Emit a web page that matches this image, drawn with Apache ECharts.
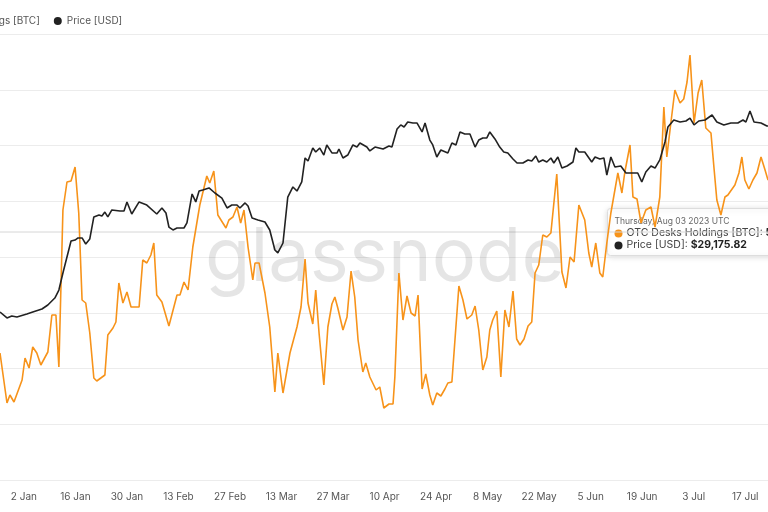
<!DOCTYPE html>
<html><head><meta charset="utf-8">
<script src="https://cdn.jsdelivr.net/npm/echarts@6/dist/echarts.min.js"></script>
<style>html,body{margin:0;padding:0;background:#fff}#c{width:768px;height:512px}</style>
</head><body><div id="c"></div>
<script>
// x = days since 2 Jan 2023
const holdDays=[-6.5,-4.6,-3.8,-2.7,-0.5,0.3,1.4,2.4,3.5,4.6,6.5,7.6,8.7,9.5,10.6,11.7,12.8,13.9,14.9,15.8,16.8,17.9,19.0,19.8,22.0,22.8,24.2,25.0,25.8,26.9,28.0,29.1,31.3,32.3,33.4,34.5,35.3,36.1,37.5,39.4,41.6,42.4,43.5,44.6,45.9,47.8,49.7,50.5,51.6,52.7,54.9,55.7,56.8,57.9,58.9,59.8,60.9,62.2,62.8,63.9,65.5,66.8,68.2,69.0,70.4,72.3,74.2,75.3,76.4,77.2,78.5,79.3,80.2,81.5,82.6,83.7,84.5,85.3,86.7,87.8,88.9,89.9,90.8,92.1,92.9,94.0,95.7,96.7,97.8,99.2,100.3,100.8,101.9,103.0,104.1,105.2,106.3,107.1,108.2,109.2,110.3,111.1,112.2,113.3,114.4,115.2,116.3,118.2,119.3,120.4,121.7,122.6,123.6,124.7,125.8,126.6,127.4,128.5,129.6,130.7,131.8,132.9,133.9,134.8,135.9,137.0,138.0,138.9,139.9,141.0,142.1,143.2,144.8,146.2,147.3,148.4,149.5,150.8,152.4,153.5,154.3,155.4,156.5,157.3,158.4,159.5,161.4,162.5,163.3,164.7,165.5,166.6,167.7,169.0,170.4,171.5,172.8,173.9,174.7,175.8,176.9,178.3,179.3,180.2,181.0,182.1,183.2,184.2,185.3,186.7,187.5,188.3,189.4,190.5,191.3,193.2,194.3,195.1,195.9,197.0,198.1,199.2,200.3,201.4,202.2,205,209,213];
const holdings=[2270,1770,1850,1780,2000,2220,2120,2330,2270,2150,2280,2650,2650,2130,3700,3980,3990,4130,3670,2800,2770,2470,2020,1990,2050,2450,2520,2580,2970,2770,2880,2730,2730,3200,3170,3250,3370,2850,2780,2540,2850,2850,2980,2900,3330,3750,4040,3970,4090,3650,3520,3600,3630,3730,3570,3700,3330,3000,3170,3170,2870,2530,1880,2270,1870,2270,2530,2730,3210,2770,2560,2900,2470,1950,2530,2760,2830,2720,2500,2630,3090,2830,2400,2080,2170,2030,1900,1930,1720,1760,1760,2030,3070,2600,2840,2670,2640,2850,1910,2060,1850,1750,1870,1840,1910,1970,1980,2940,2800,2610,2650,2740,2500,2100,2230,2500,2600,2690,2030,2700,2530,2890,2410,2350,2410,2540,2580,3070,3150,3450,3430,3470,4060,3080,2920,3230,3180,3750,3600,3270,3130,3370,3070,3030,3370,3670,4070,3870,4080,4350,3830,3810,3570,3700,3730,3530,3830,4730,4230,4570,4900,4770,4810,4980,5250,4570,4870,5000,4520,4470,4130,3800,3650,3830,3850,3950,4070,4230,4000,3910,4000,4070,4230,4100,4000,4200,4700,5138];
const priceDays=[-6.5,-4.6,-3.3,-1.9,0.8,2.4,4.9,6.5,8.4,9.5,10.6,12.8,13.9,14.7,15.8,16.8,17.9,19.0,20.4,21.2,22.0,22.8,23.9,26.1,27.2,28.0,29.3,31.3,33.4,36.1,37.5,38.6,39.4,40.5,41.6,43.5,44.3,45.7,46.7,47.6,48.6,50.3,51.9,53.8,55.2,56.5,57.9,58.7,60.1,60.9,62.0,63.6,65.5,66.8,68.2,69.0,70.4,71.7,73.1,74.2,75.5,76.4,77.2,78.5,79.3,80.4,81.5,82.3,83.7,85.1,85.6,86.7,88.0,89.4,90.5,91.3,93.2,94.0,95.4,97.6,99.2,100.0,101.4,102.4,103.3,104.3,105.7,106.8,108.2,109.0,110.3,111.1,112.2,113.3,115.2,116.3,117.4,118.5,119.8,121.2,122.6,123.6,124.7,125.8,126.6,128.0,129.3,130.4,131.5,132.9,134.0,135.6,137.0,138.0,139.1,139.9,141.0,142.1,143.2,144.0,145.1,146.2,147.6,149.2,150.0,150.8,152.4,154.3,155.2,156.5,157.6,158.4,159.5,160.6,162.2,163.6,165.5,166.8,167.9,169.0,170.4,171.5,172.8,174.2,175.0,176.6,178.3,179.9,181.0,182.1,183.4,185.1,187.0,188.3,190.2,192.1,194.0,195.4,196.2,197.3,198.4,200.3,201.9,206,210,213];
const price=[16020,15600,15740,15670,15880,16020,16240,16520,17020,17590,18810,21090,21160,21310,21310,20880,21240,22810,22950,22880,23160,22810,23310,23230,23230,23880,23020,23880,23660,23020,23450,23090,22090,21880,22020,22020,22380,24450,23880,24660,24730,24880,24520,24160,23450,23660,23660,23450,23810,23590,22730,22590,22450,21880,20450,20240,20950,24230,24950,24660,25310,27020,26800,27730,27450,27730,27230,27950,27380,27380,27660,27020,27230,27950,27800,28090,27800,27520,27800,27660,27880,27800,29090,29380,29230,29590,29520,29520,28880,29520,28300,27950,27090,27590,27380,28090,27950,28880,28730,28730,27800,28300,28450,28450,28880,28380,27800,27450,27380,26950,26660,26660,26880,26800,27160,26730,26880,26730,27020,26660,27090,26300,26450,26730,27730,27450,27450,26730,27090,26950,27020,25800,27090,26380,26450,25950,25950,25950,25310,26020,26450,26300,26880,28160,29230,29730,29590,29660,29870,29380,29660,29730,30090,29590,29380,29520,29520,29730,29590,30380,29590,29520,29300,29300,29200,29175.82];
const tickDays=[0,14,28,42,56,70,84,98,112,126,140,154,168,182,196];
const tickLabels=['2 Jan','16 Jan','30 Jan','13 Feb','27 Feb','13 Mar','27 Mar','10 Apr','24 Apr','8 May','22 May','5 Jun','19 Jun','3 Jul','17 Jul'];
const orange='#f7931a', dark='#222222';
const zip=(a,b)=>a.map((d,i)=>[d,b[i]]);
const chart=echarts.init(document.getElementById('c'));
const rich={a:{fontFamily:'Inter',fontSize:10.5,fill:'#444'},b:{fontFamily:'Inter',fontSize:10.5,fontWeight:'bold',fill:'#222'}};
chart.setOption({
  animation:false,
  grid:{left:0,right:0,top:34,bottom:32},
  legend:{left:-105,top:11,itemWidth:8,itemHeight:8,itemGap:14,icon:'circle',
    textStyle:{fontFamily:'Inter',fontSize:10,color:'#555'},
    data:[{name:'OTC Desks Holdings [BTC]',itemStyle:{color:orange}},{name:'Price [USD]',itemStyle:{color:dark}}]},
  xAxis:{type:'value',min:-6.5,max:202.2,
    axisLine:{show:false},axisTick:{show:false},splitLine:{show:false},
    axisLabel:{customValues:tickDays,color:'#555',fontFamily:'Inter',fontSize:10,margin:12,
      formatter:v=>tickLabels[tickDays.indexOf(Math.round(v))]||''}},
  yAxis:[
    {type:'value',min:1000,max:5460,show:false,splitLine:{show:false}},
    {type:'value',min:4028,max:35872,show:false,splitLine:{show:false}},
    {type:'value',min:0,max:8,interval:1,axisLabel:{show:false},axisLine:{show:false},axisTick:{show:false},
      splitLine:{show:true,lineStyle:{color:'#ececec',width:1}}}
  ],
  series:[
    {name:'OTC Desks Holdings [BTC]',type:'line',yAxisIndex:0,data:zip(holdDays,holdings),showSymbol:false,
      lineStyle:{color:orange,width:1.6},itemStyle:{color:orange},z:3},
    {name:'Price [USD]',type:'line',yAxisIndex:1,data:zip(priceDays,price),showSymbol:false,
      lineStyle:{color:dark,width:1.6},itemStyle:{color:dark},z:4}
  ],
  graphic:[
    {type:'line',shape:{x1:0,y1:232,x2:768,y2:232},style:{stroke:'#d6d6d6',lineWidth:1},z:1},
    {type:'text',left:205,top:222,z:2,style:{text:'glassnode',fontFamily:'Inter',fontSize:74,fill:'rgba(0,0,0,0.10)'}},
    {type:'group',left:607,top:208,z:100,children:[
      {type:'rect',shape:{x:0,y:0,width:190,height:47,r:3},style:{fill:'#fff',stroke:'#ddd',lineWidth:1,shadowBlur:6,shadowColor:'rgba(0,0,0,0.15)',shadowOffsetY:1}},
      {type:'text',x:7,y:8,style:{text:'Thursday, Aug 03 2023 UTC',fontFamily:'Inter',fontSize:8.5,fill:'#666'}},
      {type:'circle',shape:{cx:11,cy:25,r:4},style:{fill:orange}},
      {type:'text',x:19,y:19,style:{rich,text:'{a|OTC Desks Holdings [BTC]: }{b|5,138.05}'}},
      {type:'circle',shape:{cx:11,cy:37,r:4},style:{fill:dark}},
      {type:'text',x:19,y:31,style:{rich,text:'{a|Price [USD]: }{b|$29,175.82}'}}
    ]}
  ]
});
</script></body></html>
